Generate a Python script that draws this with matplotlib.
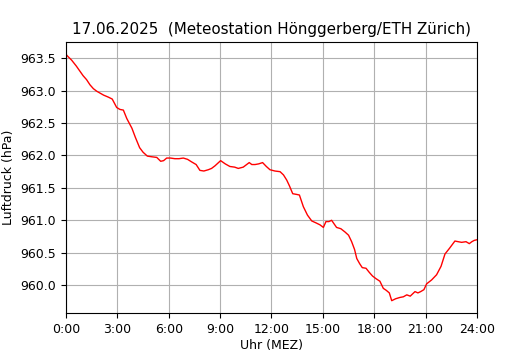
import matplotlib
matplotlib.use("Agg")
import matplotlib.pyplot as plt

# Stunden (MEZ) und Luftdruck (hPa)
stunden = [0.0, 0.1, 0.33, 0.6, 1.0, 1.2, 1.4, 1.6, 1.8, 2.0, 2.2, 2.47, 2.7, 2.96,
           3.15, 3.35, 3.55, 3.85, 4.05, 4.3, 4.5, 4.75, 5.0, 5.3, 5.53, 5.7, 5.88,
           6.1, 6.36, 6.6, 6.85, 7.1, 7.34, 7.6, 7.82, 8.05, 8.31, 8.5, 8.7, 9.03,
           9.3, 9.57, 9.85, 10.06, 10.35, 10.7, 10.85, 11.04, 11.25, 11.48, 11.7,
           11.91, 12.2, 12.5, 12.7, 12.89, 13.05, 13.24, 13.45, 13.63, 13.86, 14.1,
           14.35, 14.6, 14.83, 15.03, 15.18, 15.35, 15.51, 15.8, 16.05, 16.29,
           16.5, 16.68, 16.85, 16.98, 17.15, 17.3, 17.52, 17.7, 17.9, 18.1, 18.33,
           18.53, 18.7, 18.88, 19.02, 19.25, 19.5, 19.7, 19.9, 20.1, 20.38, 20.55,
           20.71, 20.9, 21.06, 21.35, 21.64, 21.9, 22.13, 22.4, 22.71, 22.9, 23.1,
           23.36, 23.55, 23.7, 23.84, 24.0]
druck = [963.56, 963.53, 963.47, 963.38, 963.23, 963.17, 963.09, 963.03, 962.99,
         962.96, 962.93, 962.90, 962.87, 962.74, 962.71, 962.70, 962.57, 962.42,
         962.28, 962.12, 962.05, 961.99, 961.98, 961.97, 961.91, 961.92, 961.96,
         961.96, 961.95, 961.95, 961.96, 961.94, 961.90, 961.86, 961.77, 961.76,
         961.78, 961.80, 961.84, 961.92, 961.87, 961.83, 961.82, 961.80, 961.82,
         961.89, 961.86, 961.86, 961.87, 961.89, 961.83, 961.78, 961.76, 961.75,
         961.70, 961.62, 961.53, 961.41, 961.40, 961.39, 961.21, 961.08, 960.99,
         960.96, 960.93, 960.89, 960.98, 960.98, 961.00, 960.89, 960.87, 960.82,
         960.77, 960.67, 960.55, 960.41, 960.33, 960.27, 960.26, 960.20, 960.14,
         960.10, 960.06, 959.95, 959.92, 959.88, 959.76, 959.79, 959.81, 959.82,
         959.85, 959.83, 959.90, 959.88, 959.90, 959.93, 960.02, 960.08, 960.16,
         960.29, 960.48, 960.57, 960.68, 960.67, 960.66, 960.67, 960.64, 960.67,
         960.69, 960.70]

x_ticks = [0, 3, 6, 9, 12, 15, 18, 21, 24]
x_labels = ["0:00", "3:00", "6:00", "9:00", "12:00", "15:00", "18:00", "21:00", "24:00"]

fig = plt.figure(figsize=(5.3, 3.5), dpi=100)
ax = fig.add_axes([0.1245, 0.1057, 0.7755, 0.7743])
ax.plot(stunden, druck, color="red", linewidth=1)
ax.set_xlim(0, 24)
ax.set_xticks(x_ticks)
ax.set_xticklabels(x_labels)
ax.tick_params(labelsize=9)
ax.grid(True)
ax.set_xlabel("Uhr (MEZ)", fontsize=9, labelpad=2)
ax.set_ylabel("Luftdruck (hPa)", fontsize=9)
ax.set_title("17.06.2025  (Meteostation Hönggerberg/ETH Zürich)", fontsize=10.9)

fig.savefig("out.png", dpi=100)
